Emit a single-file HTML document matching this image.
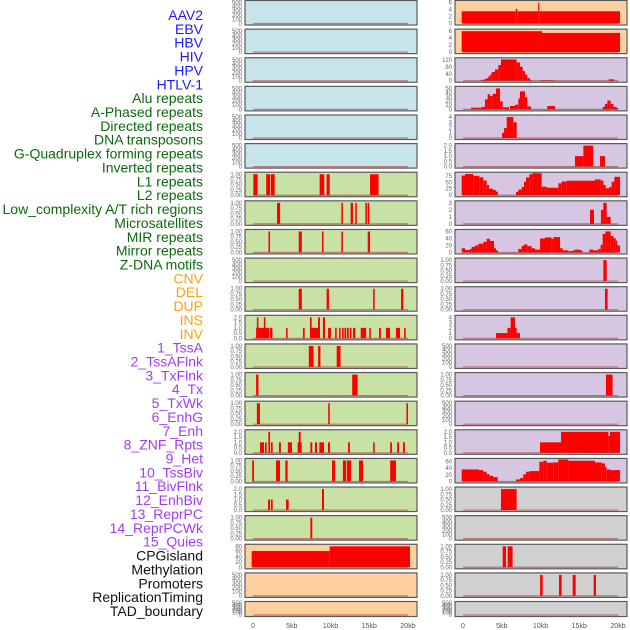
<!DOCTYPE html>
<html><head><meta charset="utf-8"><style>
html,body{margin:0;padding:0;background:#fff;width:630px;height:630px;overflow:hidden}
svg{display:block;font-family:"Liberation Sans",sans-serif}
</style></head><body>
<svg id="chart" width="630" height="630" viewBox="0 0 630 630" xmlns="http://www.w3.org/2000/svg"></svg>
<script>
const trackNames = ["AAV2","EBV","HBV","HIV","HPV","HTLV-1","Alu repeats","A-Phased repeats","Directed repeats","DNA transposons","G-Quadruplex forming repeats","Inverted repeats","L1 repeats","L2 repeats","Low_complexity A/T rich regions","Microsatellites","MIR repeats","Mirror repeats","Z-DNA motifs","CNV","DEL","DUP","INS","INV","1_TssA","2_TssAFlnk","3_TxFlnk","4_Tx","5_TxWk","6_EnhG","7_Enh","8_ZNF_Rpts","9_Het","10_TssBiv","11_BivFlnk","12_EnhBiv","13_ReprPC","14_ReprPCWk","15_Quies","CPGisland","Methylation","Promoters","ReplicationTiming","TAD_boundary"];
const xTicks = [0,5,10,15,20];
const xTickLabels = ["0","5kb","10kb","15kb","20kb"];
const T500=[0,100,200,300,400,500], T01=[0,0.25,0.5,0.75,1], T2=[0,0.5,1,1.5,2];
// panel tick sets (column-major: 0-21 left, 22-43 right)
const panelTicks = [T500,T500,T500,T500,T500,T500,T01,T01,T01,T500,T01,T2,T01,T01,T01,T2,T01,T2,T01,[0,20,40,60,80],T500,T500,
 [0,2,4,6],[0,2,4,6],[0,40,80,120],[0,10,20,30,40,50],[0,1,2,3,4],T2,[0,25,50,75],[0,1,2,3],[0,20,40,60],T01,T01,[0,1,2,3,4],T500,T01,T500,T2,[0,20,40,60],T01,T500,T01,T01,T500];
const panelBg = ["#c8e4eb","#c8e1a4","#ffd09f","#d6c6e2","#d0d0d0"];
const panelBgIndex = [0,0,0,0,0,0,1,1,1,1,1,1,1,1,1,1,1,1,1,2,2,2, 2,2,3,3,3,3,3,3,3,3,3,3,3,3,3,3,3,4,4,4,4,4];
// segments [startKb, endKb, value]
const segments = [
 [],[],[],[],[],[],
 [[0.04,0.6,1],[1.7,2.2,1],[2.3,2.8,1],[8.6,9.2,1],[9.5,9.9,1],[15.1,16.2,1]],
 [[3.1,3.5,1],[11.4,11.6,1],[12.6,12.9,1],[13.2,13.4,1],[14.5,14.7,1],[14.8,15.0,1]],
 [[2.0,2.2,1],[5.9,6.3,1],[8.9,9.1,1],[11.4,11.6,1],[14.8,15.1,1]],
 [],
 [[5.9,6.3,1],[9.5,9.8,1],[15.5,15.7,1],[19.1,19.4,1]],
 [[0.4,2.1,1],[0.5,0.7,2],[1.4,1.6,2],[2.2,2.5,1],[4.26,4.47,1],[6.45,6.67,1],[7.35,8.64,1],[7.35,7.57,2],[8.39,8.64,2],[9.03,9.29,2],[9.68,10.06,1],[10.6,10.8,1],[11.1,11.3,1],[11.5,11.7,1],[11.8,12.0,1],[12.1,12.35,1],[12.5,12.7,1],[12.9,13.2,1],[13.9,14.6,1],[15.0,15.2,1],[16.26,16.5,1],[17.16,17.68,1],[18.45,18.97,1],[19.5,19.7,1]],
 [[7.2,7.8,1],[8.4,8.7,1],[10.8,11.3,1]],
 [[0.4,0.7,1],[12.8,13.5,1]],
 [[0.5,0.9,1],[9.7,9.9,1],[19.8,20.0,1]],
 [[0.9,1.42,1],[1.55,1.76,1],[1.98,2.2,2],[2.32,2.54,1],[3.35,3.6,1],[4.5,5.03,1],[5.76,6.28,1],[5.9,6.15,2],[7.4,7.65,1],[8.0,8.26,1],[8.56,9.16,1],[9.68,9.94,1],[12.26,12.5,1],[15.5,15.7,1],[17.7,17.93,1],[18.6,18.84,1],[19.35,19.6,1]],
 [[-0.1,0.13,1],[2.97,3.48,1],[4.17,4.47,1],[10.2,10.6,1],[11.6,12.0,1],[12.1,12.65,1],[13.68,14.2,1],[17.7,18.45,1]],
 [[1.94,2.2,1],[2.32,2.54,1],[4.26,4.6,1],[8.9,9.16,2]],
 [[7.4,7.65,1]],
 [[-0.17,9.9,62],[9.9,20.26,80]],
 [],[],
 [[-0.17,6.8,3.5],[6.8,7.0,4.2],[7.0,9.7,3.5],[9.7,9.85,6],[9.85,20.26,3.5]],
 [[-0.17,10.2,6],[10.2,20.26,5.5]],
 [[2.32,2.75,5],[2.75,3.05,10],[3.05,3.27,15],[3.27,3.48,25],[3.48,3.7,35],[3.7,4.13,50],[4.13,4.56,65],[4.56,4.9,90],[4.9,6.92,122],[6.92,7.35,105],[7.35,7.7,80],[7.7,8.0,55],[8.0,8.3,35],[8.3,8.65,15],[8.65,8.86,5],[9.94,11.87,3],[18.8,19.5,8]],
 [[1.03,2.41,4],[2.41,2.84,6],[2.84,3.18,24],[3.18,3.48,36],[3.48,3.83,32],[3.83,4.26,37],[4.26,4.77,50],[4.77,5.12,19],[5.12,5.93,5],[6.06,6.71,8],[6.71,7.14,11],[7.14,7.35,26],[7.35,8.0,43],[8.0,8.3,29],[8.3,8.77,7],[10.88,11.87,8],[18.03,18.32,6],[18.32,18.62,13],[18.62,19.05,21],[19.05,19.4,13],[19.4,19.83,6],[19.83,20.04,3]],
 [[5.04,5.64,1],[5.3,5.64,1.9],[5.64,6.49,4],[6.49,6.93,3]],
 [[14.45,15.53,1],[15.53,16.8,2],[17.68,18.32,1]],
 [[-0.17,0.26,76],[0.26,1.33,82],[1.33,2.1,75],[2.1,2.62,69],[2.62,3.05,57],[3.05,3.35,40],[3.35,3.91,25],[3.91,4.26,20],[4.26,4.51,14],[6.84,7.14,13],[7.14,7.57,22],[7.57,7.87,32],[7.87,8.13,52],[8.13,8.56,69],[8.56,8.95,81],[8.95,10.15,85],[10.15,10.8,33],[10.8,12.3,29],[12.3,12.73,46],[12.73,13.38,53],[13.38,17.03,56],[17.03,17.76,61],[17.76,18.11,57],[18.11,18.41,40],[18.41,18.88,27],[18.88,19.18,32],[19.18,19.53,52],[19.53,20.26,71]],
 [[16.39,16.9,2],[17.8,18.11,2],[18.11,18.54,3],[18.54,19.05,1]],
 [[-0.17,0.26,12],[0.26,0.9,7],[0.9,1.12,10],[1.12,1.55,16],[1.55,1.98,20],[1.98,2.62,25],[2.62,3.05,30],[3.05,3.48,39],[3.48,4.0,33],[4.0,4.26,12],[4.26,4.51,6],[7.14,7.57,10],[7.57,7.87,19],[7.87,8.3,23],[8.3,8.86,18],[8.86,9.29,12],[9.29,9.94,8],[9.94,10.58,40],[10.58,11.44,43],[11.44,11.66,39],[11.66,12.52,44],[12.52,12.86,12],[12.86,13.6,6],[13.6,14.15,4],[14.15,14.45,6],[14.45,15.1,8],[15.1,15.4,6],[16.3,16.82,8],[16.82,17.46,6],[17.46,17.76,10],[17.76,18.02,22],[18.02,18.37,53],[18.37,19.05,60],[19.05,19.4,47],[19.4,19.7,41],[19.7,19.92,34],[19.92,20.26,20]],
 [[18.11,18.54,1]],
 [[18.32,18.66,1]],
 [[4.26,5.73,1],[5.73,6.15,2],[6.15,6.71,4],[6.71,6.93,2],[6.93,7.35,1]],
 [],
 [[18.45,19.3,1]],
 [],
 [[9.94,12.65,1],[12.65,18.75,2],[18.75,18.97,1.6],[18.97,20.26,2]],
 [[-0.17,2.06,36],[2.06,2.62,34],[2.62,3.05,29],[3.05,3.4,22],[3.4,3.91,17],[3.91,4.47,13],[6.84,7.35,6],[7.35,7.78,10],[7.78,8.13,21],[8.13,8.56,29],[8.56,9.85,31],[9.85,10.37,59],[10.37,10.8,62],[10.8,11.66,56],[11.66,12.3,57],[12.3,13.6,66],[13.6,17.03,62],[17.03,17.89,57],[17.89,18.32,54],[18.32,18.54,43],[18.54,18.97,36],[18.97,20.26,34]],
 [[4.9,6.92,1]],
 [],
 [[5.12,5.55,1],[5.76,6.4,1]],
 [[9.94,10.28,1],[12.39,12.73,1],[14.15,14.54,1],[16.86,17.16,1]],
 []
];
const labelColors = ["#1a1aff","#0b6b0b","#ffa20a","#a23cf5","#111"];
const labelGroup = [0,0,0,0,0,0,1,1,1,1,1,1,1,1,1,1,1,1,1,2,2,2,2,2,3,3,3,3,3,3,3,3,3,3,3,3,3,3,3,4,4,4,4,4];

const svg = document.getElementById('chart');
const NS = 'http://www.w3.org/2000/svg';
function mk(tag, attrs){const e=document.createElementNS(NS,tag);for(const k in attrs)e.setAttribute(k,attrs[k]);return e;}
const colX0 = [253,463], kbPx = 7.75;
function xScale(col,kb){return colX0[col]+kb*kbPx;}

// labels
trackNames.forEach((n,i)=>{
  const t=mk('text',{x:203,y:15+i*13.86+5,'text-anchor':'end','font-size':'14',fill:labelColors[labelGroup[i]]});
  t.textContent=n;
  
  
  svg.appendChild(t);
});

for(let p=0;p<44;p++){
  const col = p<22?0:1, row = p%22;
  const top = 0.5+row*28.62;
  const h = row===21?15:24.5;
  const left = col===0?245:455, w=172;
  const g = mk('g',{});
  
  
  svg.appendChild(g);
  g.appendChild(mk('rect',{x:left,y:top,width:w,height:h,fill:panelBg[panelBgIndex[p]],stroke:'none'}));
  const ticks = panelTicks[p];
  const segs = segments[p];
  const tTop = ticks[ticks.length-1];
  let vmax = tTop*1.05;
  segs.forEach(s=>{if(s[2]>vmax)vmax=s[2];});
  const y0 = top+h-1.5, y1 = top+1;
  const yScale = v => y0-(v/vmax)*(y0-y1);
  segs.forEach(s=>{
    const x1=xScale(col,s[0]), x2=xScale(col,s[1]);
    const r=mk('rect',{x:x1,y:yScale(s[2]),width:Math.max(1,x2-x1),height:y0-yScale(s[2]),fill:'#ff0000'});
    
    
    g.appendChild(r);
  });
  g.appendChild(mk('line',{x1:xScale(col,0),x2:xScale(col,20),y1:y0,y2:y0,stroke:'rgba(170,40,40,0.55)','stroke-width':1.2}));
  g.appendChild(mk('rect',{x:left,y:top,width:w,height:h,fill:'none',stroke:'#5a5a5a','stroke-width':1.2}));
  const dec = ticks===T01?2:(ticks===T2?1:0);
  ticks.forEach(v=>{
    const t=mk('text',{x:left-3,y:yScale(v)+2,'text-anchor':'end','font-size':'6',fill:'#666'});
    t.textContent=v.toFixed(dec);
    
    
    g.appendChild(t);
  });
}
// x axes
[0,1].forEach(col=>{
  xTicks.forEach((v,i)=>{
    const t=mk('text',{x:xScale(col,v),y:628,'text-anchor':'middle','font-size':'7',fill:'#555'});
    t.textContent=xTickLabels[i];
    
    
    svg.appendChild(t);
  });
});
</script>
</body></html>
